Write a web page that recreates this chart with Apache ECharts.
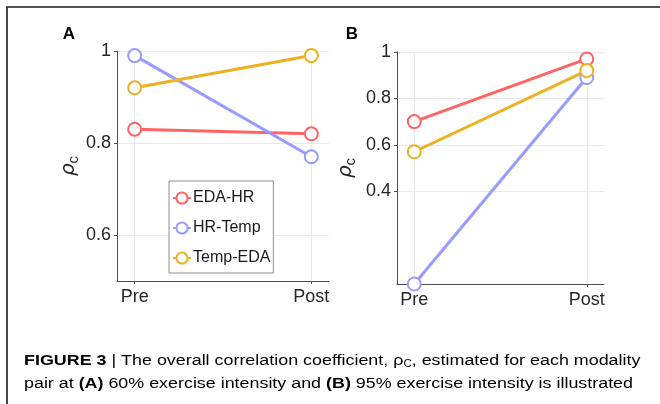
<!DOCTYPE html>
<html>
<head>
<meta charset="utf-8">
<script src="https://cdn.jsdelivr.net/npm/echarts@6/dist/echarts.min.js"></script>
<style>html,body{margin:0;padding:0;background:#fff}#c{width:660px;height:404px}</style>
</head>
<body>
<div id="c"></div>
<script>
// ---- data ----
const phases = ['Pre', 'Post'];
const pairNames = ['EDA-HR', 'HR-Temp', 'Temp-EDA'];
const panelA_EDA_HR = [0.83, 0.82];
const panelA_HR_Temp = [0.99, 0.77];
const panelA_Temp_EDA = [0.92, 0.99];
const panelB_EDA_HR = [0.70, 0.97];
const panelB_HR_Temp = [0.00, 0.89];
const panelB_Temp_EDA = [0.57, 0.92];
const yTicksA = [0.6, 0.8, 1];
const yTicksB = [0.4, 0.6, 0.8, 1];
const xTicks = [1, 2];
const captionLine1 = ['FIGURE 3', ' | The overall correlation coefficient, ', 'ρ', 'C', ', estimated for each modality'];
const captionLine2 = ['pair at ', '(A)', ' 60% exercise intensity and ', '(B)', ' 95% exercise intensity is illustrated'];

const colors = ['#FF6464', '#9A9AFF', '#EDB120'];
const FONT = 'Liberation Sans, Arial, sans-serif';

function pts(vals) { return vals.map((v, i) => [i + 1, v]); }

const chart = echarts.init(document.getElementById('c'), null, {renderer: 'canvas'});

function xAxis(gridIndex) {
  return {
    type: 'value', gridIndex, min: 0.9, max: 2.1,
    axisLine: {show: true, onZero: false, lineStyle: {color: '#4d4d4d', width: 1}},
    axisTick: {show: true, length: 3, customValues: xTicks, lineStyle: {color: '#4d4d4d'}},
    axisLabel: {customValues: xTicks, formatter: v => phases[Math.round(v) - 1], fontFamily: FONT, fontSize: 18, color: '#262626', margin: 7},
    splitLine: {show: true, lineStyle: {color: '#e9e9e9', width: 1}}
  };
}
function yAxis(gridIndex, min, ticks, gap) {
  return {
    type: 'value', gridIndex, min, max: 1,
    name: '{r|ρ}{s|c}', nameLocation: 'middle', nameGap: gap, nameRotate: 90,
    nameTextStyle: {rich: {
      r: {fontFamily: 'DejaVu Sans', fontStyle: 'italic', fontSize: 20, color: '#262626', lineHeight: 24},
      s: {fontFamily: FONT, fontSize: 15, color: '#262626', verticalAlign: 'bottom', lineHeight: 14}
    }},
    axisLine: {show: true, lineStyle: {color: '#4d4d4d', width: 1}},
    axisTick: {show: true, length: 3, customValues: ticks, lineStyle: {color: '#4d4d4d'}},
    axisLabel: {customValues: ticks, fontFamily: FONT, fontSize: 18, color: '#262626', margin: 6},
    splitLine: {show: true, lineStyle: {color: '#e9e9e9', width: 1}}
  };
}
function lineSeries(name, vals, idx, color) {
  return {
    name, type: 'line', xAxisIndex: idx, yAxisIndex: idx, data: pts(vals),
    symbol: 'emptyCircle', symbolSize: 13, showSymbol: true,
    lineStyle: {color, width: 3},
    itemStyle: {color, borderColor: color, borderWidth: 2.5},
    emphasis: {disabled: true}, animation: false, z: 3, clip: false
  };
}

// caption measurement for condensed look
const ctx = document.createElement('canvas').getContext('2d');
function measure(parts, boldIdx, size) {
  let w = 0;
  parts.forEach((p, i) => {
    ctx.font = (boldIdx.includes(i) ? 'bold ' : '') + size + 'px ' + FONT;
    w += ctx.measureText(p).width;
  });
  return w;
}
const capSize = 15.5;
const w1 = measure(captionLine1, [0], capSize);
const w2 = measure(captionLine2, [1, 3], capSize);
const sx1 = 621 / w1, sx2 = 609 / w2;

const capRich = {
  b: {fontFamily: FONT, fontWeight: 'bold', fontSize: capSize, color: '#231f20'},
  n: {fontFamily: FONT, fontSize: capSize, color: '#2b2b2b'},
  s: {fontFamily: FONT, fontSize: 10, color: '#2b2b2b', verticalAlign: 'bottom', lineHeight: 14}
};

const option = {
  animation: false,
  backgroundColor: '#fff',
  color: colors,
  grid: [
    {left: 117, top: 51, width: 212, height: 230},
    {left: 397, top: 52, width: 207, height: 232}
  ],
  xAxis: [xAxis(0), xAxis(1)],
  yAxis: [yAxis(0, 0.5, yTicksA, 36), yAxis(1, 0, yTicksB, 39)],
  legend: {
    data: pairNames, orient: 'vertical', left: 169, top: 181,
    padding: [9, 3, 7, 3], itemGap: 14, itemWidth: 18, itemHeight: 14,
    backgroundColor: '#fff', borderColor: '#8c8c8c', borderWidth: 1,
    textStyle: {fontFamily: FONT, fontSize: 16, color: '#1a1a1a', padding: [0, 0, 0, -3]},
    selectedMode: false, z: 10
  },
  series: [
    lineSeries(pairNames[0], panelA_EDA_HR, 0, colors[0]),
    lineSeries(pairNames[1], panelA_HR_Temp, 0, colors[1]),
    lineSeries(pairNames[2], panelA_Temp_EDA, 0, colors[2]),
    lineSeries(pairNames[0], panelB_EDA_HR, 1, colors[0]),
    lineSeries(pairNames[1], panelB_HR_Temp, 1, colors[1]),
    lineSeries(pairNames[2], panelB_Temp_EDA, 1, colors[2])
  ],
  graphic: [
    {type: 'rect', shape: {x: 7, y: 7, width: 700, height: 450}, style: {fill: 'none', stroke: '#1a1a1a', lineWidth: 1.6}, silent: true},
    {type: 'text', x: 69, y: 34, style: {text: 'A', font: 'bold 17px ' + FONT, fill: '#000', align: 'center', verticalAlign: 'middle'}},
    {type: 'text', x: 352, y: 34, style: {text: 'B', font: 'bold 17px ' + FONT, fill: '#000', align: 'center', verticalAlign: 'middle'}},
    {type: 'text', x: 24, y: 361, scaleX: sx1, style: {
      text: '{b|' + captionLine1[0] + '}{n|' + captionLine1[1] + captionLine1[2] + '}{s|' + captionLine1[3] + '}{n|' + captionLine1[4] + '}',
      rich: capRich, verticalAlign: 'middle', align: 'left'}},
    {type: 'text', x: 24, y: 384, scaleX: sx2, style: {
      text: '{n|' + captionLine2[0] + '}{b|' + captionLine2[1] + '}{n|' + captionLine2[2] + '}{b|' + captionLine2[3] + '}{n|' + captionLine2[4] + '}',
      rich: capRich, verticalAlign: 'middle', align: 'left'}}
  ]
};
chart.setOption(option);
</script>
</body>
</html>
